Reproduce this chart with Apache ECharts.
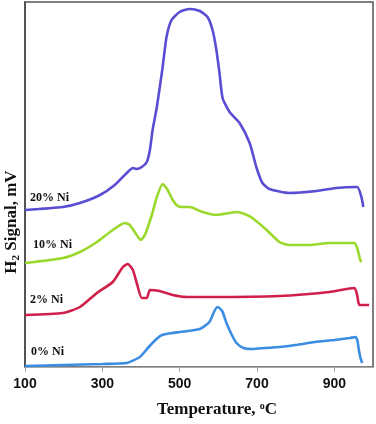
<!DOCTYPE html>
<html><head><meta charset="utf-8">
<script src="https://cdn.jsdelivr.net/npm/echarts@6/dist/echarts.min.js"></script>
<style>html,body{margin:0;padding:0;background:#fff}#c{width:376px;height:424px}</style>
</head><body><div id="c"></div>
<script>
const tempTicks = [100, 300, 500, 700, 900];
const seriesNames = ['0% Ni', '2% Ni', '10% Ni', '20% Ni'];

const temp0 = [100,200,300,363,397,420,440,454,480,500,552,577,590,598,610,621,635,647,665,688,720,758,800,850,900,940,955,960,963,967,972];
const sig0  = [1,2,3,4,10,20,28,32,34,35,38,45,56,60,56,44,32,24,19,18,19,20,22,25,27,29,30,26,18,10,4];

const temp2 = [100,198,242,286,327,353,366,379,389,402,415,423,448,482,518,585,758,887,952,959,965,990];
const sig2  = [52,54,60,74,85,100,103,97,84,69,69,77,76,72,70,70,71,75,79,72,62,62];

const temp10 = [100,198,242,286,327,358,371,389,399,410,428,441,456,469,482,495,508,526,559,595,629,647,668,688,725,758,784,835,887,952,959,967,970];
const sig10  = [104,109,115,125,137,144,142,132,127,132,152,170,183,177,167,161,160,160,155,152,154,155,153,149,137,125,122,122,124,124,119,107,105];

const temp20 = [100,198,242,294,332,363,379,389,402,415,423,430,441,456,466,479,500,526,552,572,585,595,603,611,629,655,681,699,714,732,784,854,905,959,970,975];
const sig20  = [157,160,164,172,182,194,199,198,200,205,217,237,260,300,330,347,355,358,356,350,337,317,294,269,255,244,224,199,184,178,174,176,179,180,170,160];

const colors = ['#3b8de2', '#d11f4b', '#9ad82b', '#5a4dd3'];
const temps = [temp0, temp2, temp10, temp20];
const sigs = [sig0, sig2, sig10, sig20];

const zip = (a, b) => a.map((x, i) => [x, b[i]]);

const chart = echarts.init(document.getElementById('c'));
const labelPos = [[31, 352], [30, 300], [33, 245], [30, 198]];

chart.setOption({
  animation: false,
  grid: { left: 25, right: 3, top: 2, bottom: 57, show: true, borderColor: '#555', borderWidth: 1.5, backgroundColor: 'transparent' },
  xAxis: {
    type: 'value', min: 100, max: 1000,
    axisLine: { lineStyle: { color: '#a9a9a9', width: 1.2 } },
    axisTick: { show: true, length: 5, lineStyle: { color: '#aaa' }, customValues: tempTicks },
    axisLabel: { customValues: tempTicks, fontFamily: 'Liberation Sans', fontWeight: 'bold', fontSize: 14, color: '#111', margin: 10 },
    splitLine: { show: false }
  },
  yAxis: {
    type: 'value', min: 0, max: 365,
    axisLine: { show: true, lineStyle: { color: '#444', width: 1.5 } },
    axisTick: { show: false }, axisLabel: { show: false }, splitLine: { show: false }
  },
  series: seriesNames.map((n, i) => ({
    name: n, type: 'line', data: zip(temps[i], sigs[i]),
    showSymbol: false, smooth: 0.2,
    lineStyle: { color: colors[i], width: 2.6 }, itemStyle: { color: colors[i] }
  })),
  graphic: [
    ...seriesNames.map((n, i) => ({
      type: 'text', x: labelPos[i][0], y: labelPos[i][1],
      style: { text: n, fontFamily: 'Liberation Serif', fontWeight: 'bold', fontSize: 12, fill: '#111', verticalAlign: 'middle' }
    })),
    {
      type: 'text', x: 217, y: 410,
      style: {
        text: 'Temperature, {sup|o}C', fontFamily: 'Liberation Serif', fontWeight: 'bold', fontSize: 17, fill: '#111',
        align: 'center', verticalAlign: 'middle',
        rich: { sup: { fontFamily: 'Liberation Serif', fontWeight: 'bold', fontSize: 10, fill: '#111', verticalAlign: 'top', padding: [0, 0, 7, 0] } }
      }
    },
    {
      type: 'text', x: 12, y: 222, rotation: Math.PI / 2,
      style: {
        text: 'H{sub|2} Signal, mV', fontFamily: 'Liberation Serif', fontWeight: 'bold', fontSize: 17, fill: '#111',
        align: 'center', verticalAlign: 'middle',
        rich: { sub: { fontFamily: 'Liberation Serif', fontWeight: 'bold', fontSize: 11, fill: '#111', verticalAlign: 'bottom', padding: [8, 0, 0, 0] } }
      }
    }
  ]
});
</script>
</body></html>
